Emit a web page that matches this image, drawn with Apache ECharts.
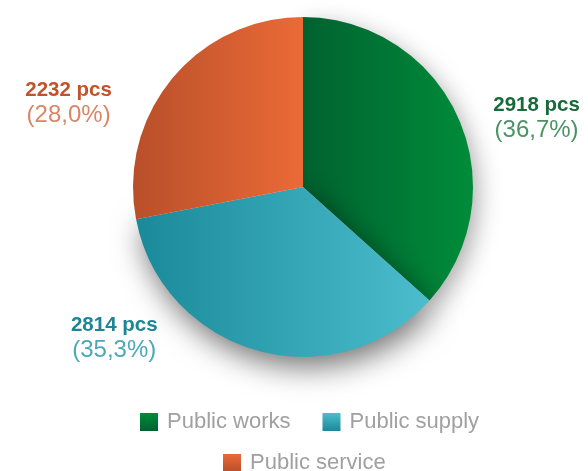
<!DOCTYPE html>
<html><head><meta charset="utf-8">
<script src="https://cdn.jsdelivr.net/npm/echarts@6/dist/echarts.min.js"></script>
<style>html,body{margin:0;padding:0;background:#fff}#c{width:588px;height:471px}</style>
</head><body><div id="c"></div>
<script>
const categories = ['Public works', 'Public supply', 'Public service'];
const values = [2918, 2814, 2232];
const unit = 'pcs';

const darkColors = ['#00622f', '#1a8a9b', '#b84f2a'];
const lightColors = ['#008c3a', '#4bbdcc', '#eb6a37'];
const labelMain = ['#196a3a', '#1a8696', '#c0532a'];
const labelSub = ['#4a9464', '#4aa8b8', '#d98566'];
const lineLen2 = [30, 95, 55];
const labelDy = [0, -13, 24];
const FONT = '"Liberation Sans", Arial, sans-serif';

function hgrad(i) {
  return new echarts.graphic.LinearGradient(0, 0, 1, 0, [
    {offset: 0, color: darkColors[i]}, {offset: 1, color: lightColors[i]}]);
}
function vgrad(i) {
  return new echarts.graphic.LinearGradient(0, 0, 0, 1, [
    {offset: 0, color: lightColors[i]}, {offset: 1, color: darkColors[i]}]);
}
const rich = {};
categories.forEach((c, i) => {
  rich['a' + i] = {fontFamily: FONT, fontWeight: 'bold', fontSize: 20.5, lineHeight: 25, color: labelMain[i], align: 'center'};
  rich['b' + i] = {fontFamily: FONT, fontSize: 24, lineHeight: 25, color: labelSub[i], align: 'center'};
});
const shadows = [
  {shadowBlur: 25, shadowColor: 'rgba(0,0,0,0.35)', shadowOffsetX: 4, shadowOffsetY: 8},
  {shadowBlur: 30, shadowColor: 'rgba(0,0,0,0.55)', shadowOffsetX: 4, shadowOffsetY: 10},
  {shadowBlur: 0, shadowColor: 'rgba(0,0,0,0)'}
];
const data = categories.map((c, i) => ({
  name: c,
  value: values[i],
  itemStyle: Object.assign({color: hgrad(i)}, shadows[i]),
  labelLine: {show: false, length: 0, length2: lineLen2[i]}
}));

const legendText = {fontFamily: FONT, fontSize: 22, color: '#a0a0a0', padding: [0, 0, 0, 4]};
const chart = echarts.init(document.getElementById('c'));
chart.setOption({
  backgroundColor: '#fff',
  animation: false,
  legend: [
    {
      data: [categories[0], categories[1]].map((n, k) => ({name: n, itemStyle: {color: vgrad(k)}})),
      left: 135, top: 406, itemWidth: 18, itemHeight: 18, itemGap: 32, icon: 'rect',
      textStyle: legendText
    },
    {
      data: [{name: categories[2], itemStyle: {color: vgrad(2)}}],
      left: 218, top: 447, itemWidth: 18, itemHeight: 18, icon: 'rect',
      textStyle: legendText
    }
  ],
  series: [{
    type: 'pie',
    center: [303, 187],
    radius: 170,
    startAngle: 90,
    clockwise: true,
    percentPrecision: 1,
    avoidLabelOverlap: false,
    label: {
      show: true,
      position: 'outside',
      overflow: 'none',
      distanceToLabelLine: 5,
      formatter: p => '{a' + p.dataIndex + '|' + p.value + ' ' + unit + '}\n{b' + p.dataIndex + '|(' + p.percent.toFixed(1).replace('.', ',') + '%)}',
      rich: rich
    },
    labelLayout: p => ({dy: labelDy[p.dataIndex]}),
    emphasis: {disabled: true},
    data: data
  }]
});
</script>
</body></html>
